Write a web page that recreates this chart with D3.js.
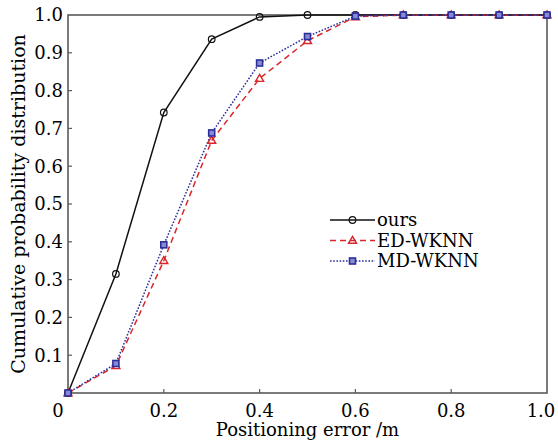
<!DOCTYPE html>
<html>
<head>
<meta charset="utf-8">
<script src="https://cdn.jsdelivr.net/npm/d3@7.9.0/dist/d3.min.js"></script>
<style>
  body { margin: 0; background: #fff; }
</style>
</head>
<body>
<svg id="chart" width="558" height="443" font-family="'DejaVu Serif', serif"></svg>
<script>
// data
const errors = [0, 0.1, 0.2, 0.3, 0.4, 0.5, 0.6, 0.7, 0.8, 0.9, 1.0];
const ours   = [0, 0.315, 0.742, 0.936, 0.995, 1.0, 1.0, 1.0, 1.0, 1.0, 1.0];
const edWknn = [0, 0.072, 0.350, 0.668, 0.832, 0.932, 0.995, 1.0, 1.0, 1.0, 1.0];
const mdWknn = [0, 0.078, 0.392, 0.688, 0.873, 0.943, 0.997, 1.0, 1.0, 1.0, 1.0];
const xTicks = [0, 0.2, 0.4, 0.6, 0.8, 1.0];
const xTickLabels = ['0', '0.2', '0.4', '0.6', '0.8', '1.0'];
const yTicks = [0.1, 0.2, 0.3, 0.4, 0.5, 0.6, 0.7, 0.8, 0.9, 1.0];

const svg = d3.select('#chart');
const margin = { left: 68, right: 11, top: 15, bottom: 50 };
const W = 558, H = 443;
const fs = 18;

const x = d3.scaleLinear().domain([0, 1]).range([margin.left, W - margin.right]);
const y = d3.scaleLinear().domain([0, 1]).range([H - margin.bottom, margin.top]);

const series = [
  { name: 'ours',    values: ours,   color: '#111',    dash: null,    marker: 'circle' },
  { name: 'ED-WKNN', values: edWknn, color: '#d8262b', dash: '6,4',   marker: 'triangle' },
  { name: 'MD-WKNN', values: mdWknn, color: '#2b2f9c', dash: '1.6,1.6', marker: 'square' }
];

// frame
const frameColor = '#5a5a5a';
svg.append('rect')
  .attr('x', x(0)).attr('y', y(1))
  .attr('width', x(1) - x(0)).attr('height', y(0) - y(1))
  .attr('fill', 'none').attr('stroke', frameColor).attr('stroke-width', 1.6);

// inward ticks
svg.append('g').selectAll('line').data(xTicks.slice(1, -1)).join('line')
  .attr('x1', d => x(d)).attr('x2', d => x(d))
  .attr('y1', y(0)).attr('y2', y(0) - 4)
  .attr('stroke', frameColor).attr('stroke-width', 1.2);
svg.append('g').selectAll('line').data(yTicks.slice(0, -1)).join('line')
  .attr('x1', x(0)).attr('x2', x(0) + 4)
  .attr('y1', d => y(d)).attr('y2', d => y(d))
  .attr('stroke', frameColor).attr('stroke-width', 1.2);

// tick labels (first and last nudged like the original)
svg.append('g').selectAll('text').data(xTicks).join('text')
  .attr('x', (d, i) => i === 0 ? x(d) - 10 : (i === xTicks.length - 1 ? x(d) - 6 : x(d)))
  .attr('y', y(0) + 24)
  .attr('text-anchor', 'middle')
  .attr('font-size', fs)
  .text((d, i) => xTickLabels[i]);
svg.append('g').selectAll('text').data(yTicks).join('text')
  .attr('x', x(0) - 5)
  .attr('y', d => y(d))
  .attr('dy', '0.35em')
  .attr('text-anchor', 'end')
  .attr('font-size', fs)
  .text(d => d.toFixed(1));

// axis titles
svg.append('text')
  .attr('x', (x(0) + x(1)) / 2).attr('y', 436)
  .attr('text-anchor', 'middle').attr('font-size', fs)
  .text('Positioning error /m');
svg.append('text')
  .attr('transform', `translate(25,${(y(0) + y(1)) / 2}) rotate(-90)`)
  .attr('text-anchor', 'middle').attr('font-size', 19)
  .text('Cumulative probability distribution');

// lines
const line = d3.line().x((d, i) => x(errors[i])).y(d => y(d));
function drawMarker(g, type, cx, cy, color) {
  if (type === 'circle') {
    g.append('circle').attr('cx', cx).attr('cy', cy).attr('r', 3.3)
      .attr('fill', 'none').attr('stroke', color).attr('stroke-width', 1.2);
  } else if (type === 'triangle') {
    g.append('path')
      .attr('d', d3.symbol(d3.symbolTriangle, 28)())
      .attr('transform', `translate(${cx},${cy + 0.5})`)
      .attr('fill', 'none').attr('stroke', color).attr('stroke-width', 1.4);
  } else {
    g.append('rect').attr('x', cx - 3).attr('y', cy - 3).attr('width', 6).attr('height', 6)
      .attr('fill', '#8a8ad0').attr('stroke', color).attr('stroke-width', 1.6);
  }
}

series.forEach(s => {
  svg.append('path')
    .datum(s.values)
    .attr('d', line)
    .attr('fill', 'none')
    .attr('stroke', s.color)
    .attr('stroke-width', 1.5)
    .attr('stroke-dasharray', s.dash);
});
series.forEach(s => {
  const g = svg.append('g');
  s.values.forEach((v, i) => drawMarker(g, s.marker, x(errors[i]), y(v), s.color));
});

// legend
const legend = svg.append('g');
series.forEach((s, i) => {
  const ly = 220 + i * 20.5;
  legend.append('line')
    .attr('x1', 330).attr('x2', 375).attr('y1', ly).attr('y2', ly)
    .attr('stroke', s.color).attr('stroke-width', 1.5)
    .attr('stroke-dasharray', s.dash);
  drawMarker(legend, s.marker, 352.5, ly, s.color);
  legend.append('text')
    .attr('x', 377).attr('y', ly).attr('dy', '0.35em')
    .attr('font-size', fs)
    .text(s.name);
});
</script>
</body>
</html>
